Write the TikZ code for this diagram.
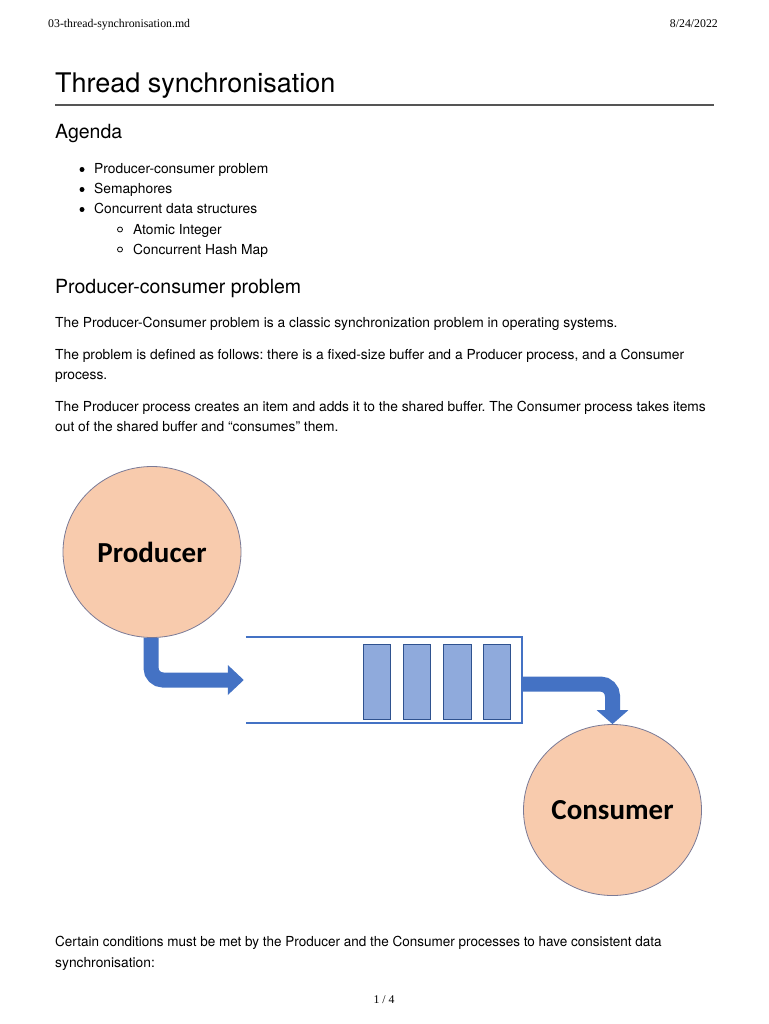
\documentclass[tikz,border=0pt]{standalone}
\usepackage{fontspec}
\setmainfont{TeX Gyre Heros}
\newfontfamily\hdrfont{Liberation Serif}
\newfontfamily\lblfont{Carlito}
\usetikzlibrary{arrows.meta,shapes.geometric}
\definecolor{arrowblue}{HTML}{4472C4}
\definecolor{slotfill}{HTML}{8FAADC}
\definecolor{slotdraw}{HTML}{2F528F}
\definecolor{peach}{HTML}{F8CBAD}
\definecolor{ringgray}{HTML}{7A7A96}
\definecolor{rulegray}{HTML}{555555}
\frenchspacing
\begin{document}
\begin{tikzpicture}[x=1pt,y=-1pt,
 body/.style={anchor=base west,inner sep=0,font=\fontsize{13.8}{16}\selectfont},
 hdr/.style={inner sep=0,font=\hdrfont\fontsize{11.8}{13}\selectfont},
 hsec/.style={anchor=base west,inner sep=0,font=\fontsize{19.5}{22}\selectfont},
 proc/.style={ellipse,draw=ringgray,line width=0.8pt,fill=peach,minimum width=178pt,minimum height=171pt,inner sep=0,font=\lblfont\bfseries\fontsize{29}{32}\selectfont},
 slot/.style={draw=slotdraw,line width=0.8pt,fill=slotfill,minimum width=27.5pt,minimum height=75pt,inner sep=0},
 flow/.style={draw=arrowblue,line width=15pt,rounded corners=12pt},
 bdot/.style={circle,fill=black,inner sep=0,minimum size=5pt},
 bring/.style={circle,draw=black,line width=0.8pt,inner sep=0,minimum size=5pt},
]
\useasboundingbox[fill=white] (0,0) rectangle (768,1024);

% header
\node[hdr,anchor=base west] (file) at (48,28) {03-thread-synchronisation.md};
\node[hdr,anchor=base east] (date) at (718,28) {8/24/2022};

% title
\node[anchor=base west,inner sep=0,font=\fontsize{27}{30}\selectfont] (title) at (55,93) {Thread synchronisation};
\draw[rulegray,line width=1.2pt] (55,105) -- (714,105);

% agenda
\node[hsec] (agenda) at (55,139) {Agenda};
\node[bdot] (b1) at (82,169.5) {};
\node[body] (l1) at (94,174) {Producer-consumer problem};
\node[bdot] (b2) at (82,189.5) {};
\node[body] (l2) at (94,194) {Semaphores};
\node[bdot] (b3) at (82,209.5) {};
\node[body] (l3) at (94,214) {Concurrent data structures};
\node[bring] (b4) at (120,229.5) {};
\node[body] (l4) at (133,234) {Atomic Integer};
\node[bring] (b5) at (120,249.5) {};
\node[body] (l5) at (133,254) {Concurrent Hash Map};

% section
\node[hsec] (pcp) at (55,293) {Producer-consumer problem};
\node[body] (p1) at (55,327) {The Producer-Consumer problem is a classic synchronization problem in operating systems.};
\node[body] (p2a) at (55,359) {The problem is defined as follows: there is a fixed-size buffer and a Producer process, and a Consumer};
\node[body] (p2b) at (55,379) {process.};
\node[body] (p3a) at (55,411) {The Producer process creates an item and adds it to the shared buffer. The Consumer process takes items};
\node[body] (p3b) at (55,431) {out of the shared buffer and \textquotedblleft consumes\textquotedblright\ them.};

% diagram
\node[proc] (prod) at (152,552) {Producer};
\node[proc] (cons) at (612.5,810) {Consumer};
\node[inner sep=0,minimum width=276pt,minimum height=86pt] (buf) at (384,680) {};
\draw[arrowblue,line width=2.5pt] (buf.north west) -- (buf.north east) -- (buf.south east) -- (buf.south west);
\node[slot] (s1) at (377,681.5) {};
\node[slot] (s2) at (417,681.5) {};
\node[slot] (s3) at (457.5,681.5) {};
\node[slot] (s4) at (497,681.5) {};

\draw[flow,-{Triangle[length=16pt,width=29pt]}] ([xshift=-1pt]prod.south) |- ([xshift=-2pt]buf.west);
\coordinate (bout) at ([yshift=-4pt]buf.east);
\draw[flow,-{Triangle[length=14pt,width=31pt]}] (bout) -| (cons.north);

% closing text
\node[body] (c1) at (55,946) {\scalebox{0.978}[1]{Certain conditions must be met by the Producer and the Consumer processes to have consistent data}};
\node[body] (c2) at (55,967) {synchronisation:};
\node[hdr,anchor=base] (page) at (384,1003) {1 / 4};
\end{tikzpicture}
\end{document}
